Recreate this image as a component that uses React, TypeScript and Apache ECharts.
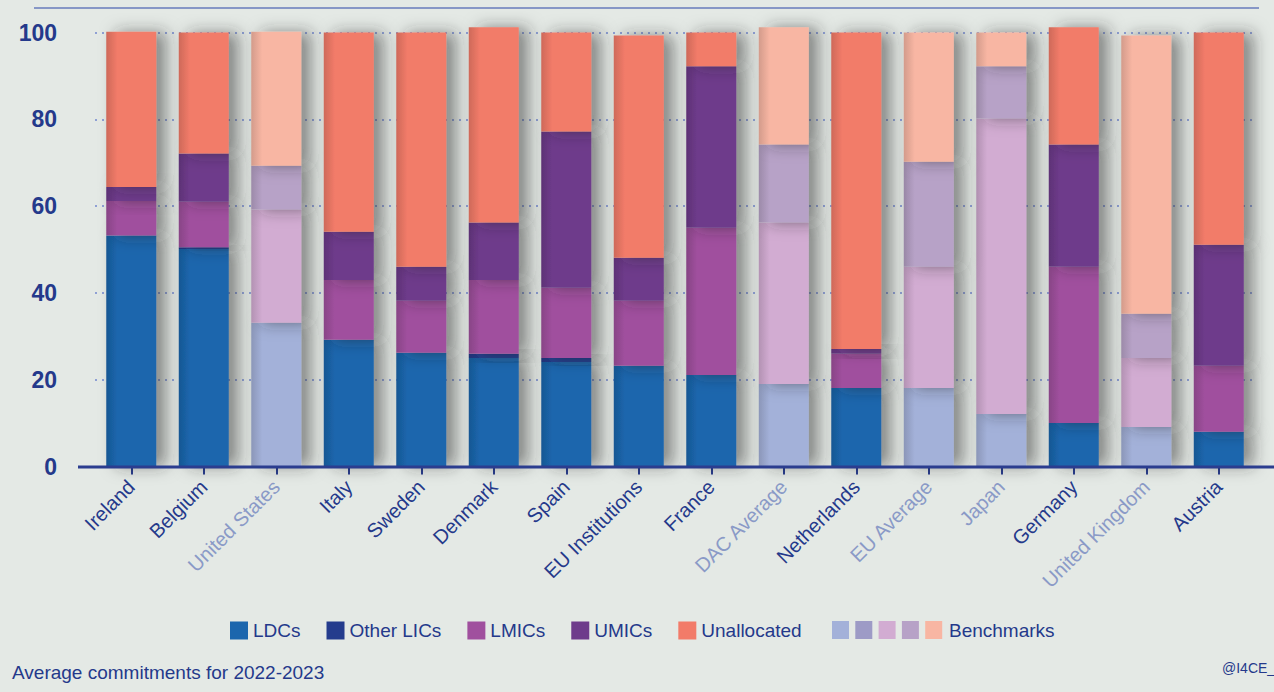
import React, { useEffect, useRef } from "react";
import * as echarts from "echarts";

const categories = [
  "Ireland", "Belgium", "United States", "Italy", "Sweden", "Denmark", "Spain",
  "EU Institutions", "France", "DAC Average", "Netherlands", "EU Average",
  "Japan", "Germany", "United Kingdom", "Austria",
];
const benchmarkCats = ["United States", "DAC Average", "EU Average", "Japan", "United Kingdom"];

const ldcs = [53.2, 50.1, 33.1, 29.2, 26.2, 25.0, 24.1, 23.2, 21.1, 19.0, 18.1, 18.1, 12.1, 10.0, 9.1, 8.0];
const otherLics = [0, 0.4, 0, 0, 0, 1.0, 0.9, 0, 0, 0, 0, 0, 0, 0, 0, 0];
const lmics = [8.0, 10.5, 26.1, 13.8, 12.0, 17.0, 16.2, 15.0, 33.9, 37.2, 7.9, 27.9, 68.1, 36.0, 15.9, 15.2];
const umics = [3.2, 11.1, 10.1, 11.1, 7.8, 13.2, 36.0, 9.9, 37.2, 18.0, 1.1, 24.2, 12.0, 28.2, 10.2, 27.9];
const unallocated = [35.8, 27.9, 30.9, 45.9, 54.0, 45.0, 22.8, 51.2, 7.8, 27.0, 72.9, 29.8, 7.8, 27.0, 64.1, 48.9];

const seriesNames = ["LDCs", "Other LICs", "LMICs", "UMICs", "Unallocated"];
const seriesValues = [ldcs, otherLics, lmics, umics, unallocated];
const mainColors = ["#1b66ad", "#243c8d", "#a0509e", "#6e3b8b", "#f27b69"];
const benchColors = ["#a3b1d9", "#9d9bc6", "#d2acd2", "#b7a2c7", "#f8b6a3"];
const benchmarkLabel = "Benchmarks";
const footNote = "Average commitments for 2022-2023";
const credit = "@I4CE_";

const TEXT = "#24398b";
const BENCH_TEXT = "#8a9ac7";
const SANS = '"Liberation Sans", Arial, Helvetica, sans-serif';

function shade(hex: string, f: number): string {
  const n = parseInt(hex.slice(1), 16);
  const r = Math.round(((n >> 16) & 255) * f);
  const g = Math.round(((n >> 8) & 255) * f);
  const b = Math.round((n & 255) * f);
  return `rgb(${r},${g},${b})`;
}

function grad(c: string) {
  return new echarts.graphic.LinearGradient(0, 0, 1, 0, [
    { offset: 0, color: shade(c, 0.85) },
    { offset: 0.22, color: c },
    { offset: 1, color: c },
  ]);
}

export default function App() {
  const ref = useRef<HTMLDivElement>(null);
  useEffect(() => {
    document.body.style.margin = "0";
    if (!ref.current) return;
    const chart = echarts.init(ref.current, undefined, { renderer: "svg" });
    const series = seriesNames.map((name, si) => ({
      name,
      type: "bar",
      stack: "total",
      barWidth: 50,
      clip: false,
      itemStyle: { color: mainColors[si] },
      data: seriesValues[si].map((v, i) => {
        const isB = benchmarkCats.includes(categories[i]);
        const c = isB ? benchColors[si] : mainColors[si];
        return {
          value: v,
          itemStyle: {
            color: grad(c),
            shadowColor: "rgba(40,40,40,0.5)",
            shadowBlur: 16,
            shadowOffsetX: 10,
            shadowOffsetY: 0,
          },
        };
      }),
    }));
    chart.setOption({
      animation: false,
      backgroundColor: "#e4e9e5",
      grid: { left: 95, right: 19, top: 32.5, bottom: 225.5 },
      legend: {
        data: seriesNames,
        left: 230,
        top: 621,
        padding: 0,
        itemWidth: 18,
        itemHeight: 18,
        itemGap: 26,
        icon: "rect",
        selectedMode: false,
        textStyle: { color: TEXT, fontSize: 19, fontFamily: SANS },
      },
      xAxis: {
        type: "category",
        data: categories,
        axisLine: { show: false },
        axisTick: { show: true, alignWithLabel: true, length: 8, lineStyle: { color: TEXT, width: 2 } },
        axisLabel: {
          rotate: 45,
          interval: 0,
          fontSize: 20,
          fontFamily: SANS,
          margin: 17,
          color: (v: string) => (benchmarkCats.includes(v) ? BENCH_TEXT : TEXT),
        },
      },
      yAxis: {
        type: "value",
        min: 0,
        max: 100,
        interval: 20,
        axisLine: { show: false },
        axisTick: { show: false },
        axisLabel: { fontSize: 23, fontWeight: "bold", color: TEXT, fontFamily: SANS, margin: 38 },
        splitLine: { lineStyle: { color: "#8fa0d4", type: [2, 5], width: 2 } },
      },
      graphic: [
        { type: "line", shape: { x1: 34, y1: 8, x2: 1259, y2: 8 }, style: { stroke: "#8797c6", lineWidth: 2 } },
        { type: "line", z: 10, shape: { x1: 78, y1: 467, x2: 1274, y2: 467 }, style: { stroke: "#2b3d8f", lineWidth: 3 } },
        ...benchColors.map((c, i) => ({
          type: "rect",
          shape: { x: 832 + i * 23.3, y: 621, width: 17, height: 18 },
          style: { fill: c },
        })),
        {
          type: "text",
          x: 949,
          y: 630,
          style: { text: benchmarkLabel, fill: TEXT, fontSize: 19, fontFamily: SANS, verticalAlign: "middle" },
        },
        {
          type: "text",
          x: 12,
          y: 672,
          style: { text: footNote, fill: TEXT, fontSize: 19, fontFamily: SANS, verticalAlign: "middle" },
        },
        {
          type: "text",
          x: 1222,
          y: 668,
          style: { text: credit, fill: TEXT, fontSize: 14, fontFamily: SANS, verticalAlign: "middle" },
        },
      ],
      series,
    });
    return () => chart.dispose();
  }, []);
  return <div ref={ref} style={{ width: 1274, height: 692 }} />;
}
